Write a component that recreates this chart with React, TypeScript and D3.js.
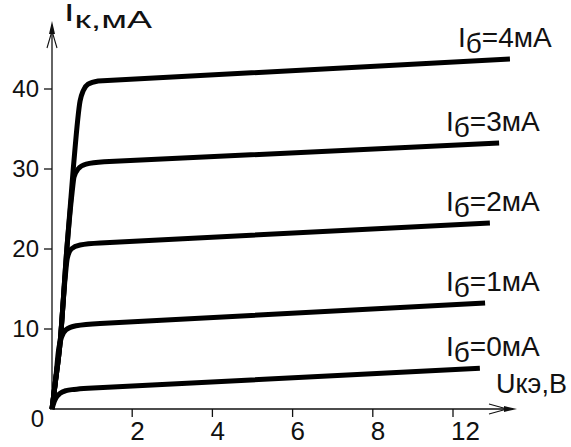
import React from 'react';
import * as d3 from 'd3';

// Base-current labels (mA)
const baseCurrents = ['0', '1', '2', '3', '4'];

// Output characteristics: [U_кэ (axis units), I_к (mA)]
const curveIb0: [number, number][] = [[0, 0], [0.04, 0.7], [0.1, 1.4], [0.2, 1.95], [0.35, 2.3], [0.55, 2.45], [0.9, 2.6], [10.67, 5.1]];
const curveIb1: [number, number][] = [[0, 0], [0.08, 3.2], [0.17, 7.6], [0.24, 9.0], [0.35, 9.9], [0.6, 10.4], [1.2, 10.7], [10.8, 13.25]];
const curveIb2: [number, number][] = [[0, 0], [0.08, 3.2], [0.2, 8.2], [0.33, 16.5], [0.38, 18.8], [0.48, 20.0], [0.7, 20.5], [1.2, 20.75], [10.92, 23.25]];
const curveIb3: [number, number][] = [[0, 0], [0.08, 3.2], [0.2, 8.2], [0.37, 20], [0.5, 27], [0.55, 29.0], [0.65, 30.0], [0.85, 30.6], [1.3, 30.9], [11.15, 33.25]];
const curveIb4: [number, number][] = [[0, 0], [0.08, 3.2], [0.2, 8.2], [0.37, 20], [0.53, 30], [0.7, 38.5], [0.78, 39.8], [0.9, 40.6], [1.15, 41.0], [11.42, 43.75]];
const curves = [curveIb0, curveIb1, curveIb2, curveIb3, curveIb4];

// Axis ticks
const xTickValues = [2, 4, 6, 8, 10];
const xTickLabels = ['2', '4', '6', '8', '12'];
const yTickValues = [0, 10, 20, 30, 40];
const yTickLabels = ['0', '10', '20', '30', '40'];

const FONT = '"Liberation Sans", Arial, sans-serif';
const INK = '#111';

export default function App() {
  const x = d3.scaleLinear().domain([0, 10]).range([52, 453]);
  const y = d3.scaleLinear().domain([0, 40]).range([409, 89]);
  const knee = d3
    .line<[number, number]>()
    .x((d) => x(d[0]))
    .y((d) => y(d[1]))
    .curve(d3.curveMonotoneX);

  // knee is smooth, the saturation region is a straight segment
  const curvePath = (c: [number, number][]) => {
    const last = c[c.length - 1];
    return (knee(c.slice(0, -1)) || '') + `L${x(last[0])},${y(last[1])}`;
  };

  const x0 = x(0);
  const y0 = y(0);
  const xEnd = 517;
  const yTop = 21;

  return (
    <svg
      width={571}
      height={447}
      viewBox="0 0 571 447"
      style={{ position: 'absolute', left: 0, top: 0, background: '#fff' }}
      fontFamily={FONT}
    >
      <rect x={0} y={0} width={571} height={447} fill="#fff" />

      {/* Y axis */}
      <line x1={x0} y1={y0} x2={x0} y2={yTop + 4} stroke={INK} strokeWidth={1.3} />
      <path d={`M${x0 - 3},${yTop + 13} L${x0},${yTop} L${x0 + 3},${yTop + 13} Z`} fill={INK} />
      <path d={`M${x0 - 5},${yTop + 27} L${x0},${yTop + 10} L${x0 + 5},${yTop + 27}`} fill="none" stroke={INK} strokeWidth={1.1} />

      {/* X axis */}
      <line x1={x0 - 2} y1={y0} x2={xEnd - 4} y2={y0} stroke={INK} strokeWidth={1.3} />
      <path d={`M${xEnd - 13},${y0 - 3} L${xEnd},${y0} L${xEnd - 13},${y0 + 3} Z`} fill={INK} />
      <path d={`M${xEnd - 28},${y0 - 5} L${xEnd - 10},${y0} L${xEnd - 28},${y0 + 5}`} fill="none" stroke={INK} strokeWidth={1.1} />

      {/* Y ticks */}
      {yTickValues.map((v, i) => (
        <g key={`yt${i}`}>
          {v !== 0 && <line x1={x0 - 8} x2={x0} y1={y(v)} y2={y(v)} stroke={INK} strokeWidth={1.3} />}
          <text
            x={v === 0 ? 44 : 39}
            y={v === 0 ? y(v) + 18 : y(v) + 8}
            textAnchor="end"
            fontSize={24}
            fill={INK}
          >
            {yTickLabels[i]}
          </text>
        </g>
      ))}

      {/* X ticks */}
      {xTickValues.map((v, i) => (
        <g key={`xt${i}`}>
          <line x1={x(v)} x2={x(v)} y1={y0} y2={y0 + 8} stroke={INK} strokeWidth={1.3} />
          <text x={x(v) - 2} y={y0 + 31} textAnchor="start" fontSize={26} fill={INK}>
            {xTickLabels[i]}
          </text>
        </g>
      ))}

      {/* Curves */}
      {curves.map((c, i) => (
        <path
          key={`c${i}`}
          d={curvePath(c)}
          fill="none"
          stroke="#000"
          strokeWidth={5}
          strokeLinejoin="round"
          strokeLinecap="butt"
        />
      ))}

      {/* Curve labels */}
      {curves.map((c, i) => {
        const last = c[c.length - 1];
        const lx = i === 4 ? 458 : 446;
        const ly = y(last[1]) - 12;
        return (
          <text key={`l${i}`} x={lx} y={ly} fontSize={28} fill={INK}>
            <tspan>I</tspan>
            <tspan dy={6}>б</tspan>
            <tspan dy={-6}>{`=${baseCurrents[i]}мА`}</tspan>
          </text>
        );
      })}

      {/* Axis titles */}
      <text x={64} y={28} fontSize={24} fill={INK} textLength={88} lengthAdjust="spacingAndGlyphs">
        <tspan dy={-7}>I</tspan>
        <tspan dy={7}>к,мА</tspan>
      </text>
      <text x={496} y={393} fontSize={27} fill={INK}>
        Uкэ,В
      </text>
    </svg>
  );
}
